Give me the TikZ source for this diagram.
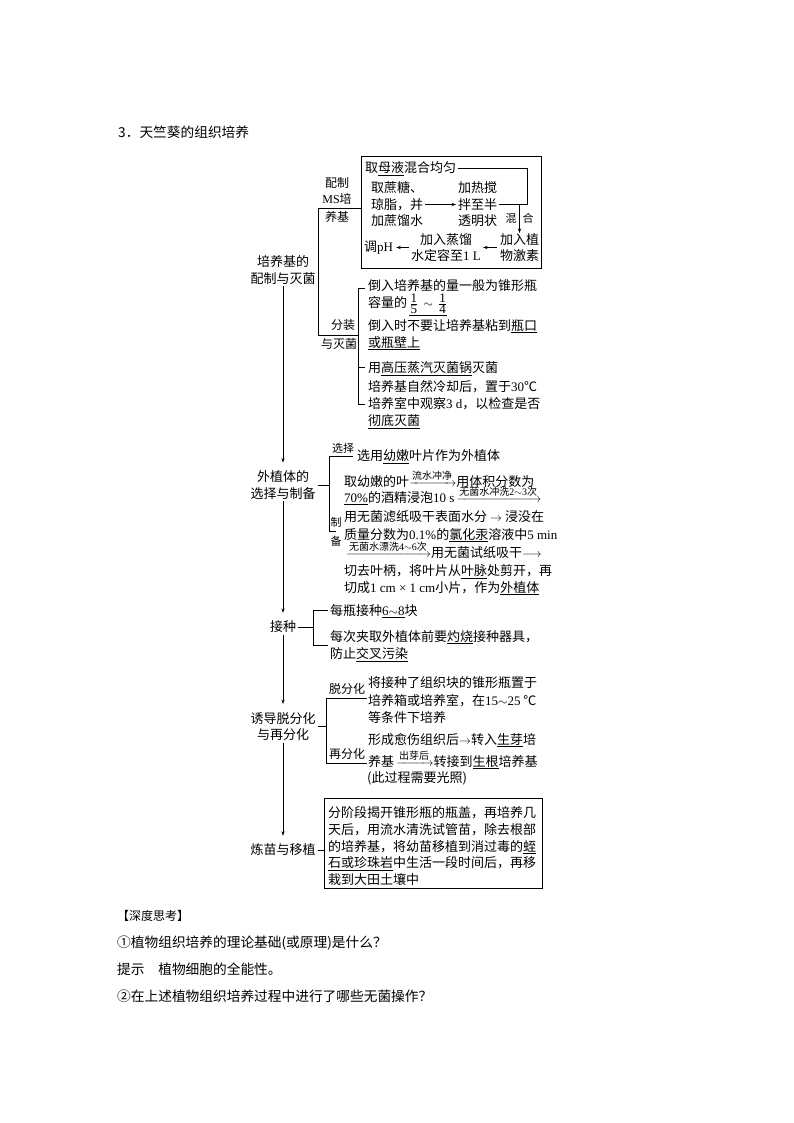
\documentclass[tikz,border=0pt]{standalone}
\usepackage{amsmath}
\usepackage{fontspec}
\setmainfont{Noto Sans CJK SC}
\newfontfamily\lat{Liberation Serif}
\usetikzlibrary{arrows.meta}
\newcommand{\uln}[1]{\underline{#1}}
\newcommand{\la}[1]{{\lat #1}}
\newcommand{\xarr}[1]{$\xrightarrow{\hbox{\fontsize{10}{12}\selectfont #1}}$}
\newcommand{\tld}{$\sim$}
\newcommand{\frc}[2]{\frac{\hbox{\fontsize{13}{13}\lat #1}}{\hbox{\fontsize{13}{13}\lat #2}}}
\begin{document}
\begin{tikzpicture}[x=1pt,y=-1pt,
  ln/.style={line width=0.6pt},
  arr/.style={ln,-{Stealth[length=4.5pt,width=3.2pt]}},
  tx/.style={anchor=base west,inner sep=0pt,font=\fontsize{13}{16}\selectfont},
  mtx/.style={inner sep=0pt,align=left,font=\fontsize{13}{16.5}\selectfont},
  sec/.style={inner sep=2pt,align=center,font=\fontsize{13}{16.5}\selectfont},
  lab/.style={inner sep=0pt,font=\fontsize{12}{14}\selectfont},
  sml/.style={inner sep=0pt,font=\fontsize{11}{13}\selectfont},
  bot/.style={anchor=base west,inner sep=0pt,font=\fontsize{13.7}{16}\selectfont},
]
\fill[white] (0,0) rectangle (794,1123);
\useasboundingbox (0,0) rectangle (794,1123);

% title
\node[bot] (title) at (118,138) {3．天竺葵的组织培养};

% section labels
\node[sec] (L1) at (283,270) {培养基的\\配制与灭菌};
\node[sec] (L2) at (283,485) {外植体的\\选择与制备};
\node[sec] (L3) at (283,627) {接种};
\node[sec] (L4) at (283,726.5) {诱导脱分化\\与再分化};
\node[sec] (L5) at (283,850) {炼苗与移植};
\draw[arr,shorten >=6pt] (L1.south) -- (L2.north);
\draw[arr,shorten >=6pt] (L2.south) -- (L3.north);
\draw[arr,shorten >=6pt] (L3.south) -- (L4.north);
\draw[arr,shorten >=6pt] (L4.south) -- (L5.north);

% ---------- section 1: MS medium box
\node[draw,ln,minimum width=180pt,minimum height=112pt,inner sep=0pt] (boxA) at (451,212) {};
\node[tx] (tA) at (365,173) {取\uln{母液}混合均匀};
\node[mtx,anchor=west] (tB) at (371,204.5) {取蔗糖、\\琼脂，并\\加蔗馏水};
\node[mtx,anchor=west] (tC) at (458,204.5) {加热搅\\拌至半\\透明状};
\node[mtx,align=center] (tD) at (519.5,247.5) {加入植\\物激素};
\node[mtx,align=center] (tE) at (446,247.5) {加入蒸馏\\水定容至\la{1 L}};
\node[mtx,anchor=west] (tF) at (364,247.5) {调\la{pH}};
\coordinate (c1) at (527,168);
\coordinate (c2) at (527,204.5);
\draw[ln] ([xshift=2pt]tA.east |- c1) -- (c1) -- (c2) -- ([xshift=2pt]tC.east |- c2);
\draw[arr] (tD.north |- c2) -- (tD.north);
\node[sml] (mix1) at (511,218) {混};
\node[sml] (mix2) at (528,218) {合};
\draw[arr] ([xshift=2pt]tB.east) -- ([xshift=-2pt]tC.west);
\draw[arr] ([xshift=-3pt]tD.west) -- ([xshift=2pt]tE.east);
\draw[arr] ([xshift=-2pt]tE.west) -- ([xshift=3pt]tF.east);

\node[lab] (ms1) at (337,183) {配制};
\node[lab] (ms2) at (337,199) {\la{MS}培};
\node[lab] (ms3) at (337,216.5) {养基};

\coordinate (j1) at (318,208);
\coordinate (j2) at (318,335);
\coordinate (f1) at (358,288);
\coordinate (f2) at (358,404);
\coordinate (f3) at (358,367);
\draw[ln] (boxA.west |- j1) -- (j1) -- (j2) -- (j2 -| f1);
\draw[ln] ([xshift=7pt]f1) -- (f1) -- (f2) -- ([xshift=7pt]f2);
\draw[ln] (f3) -- ([xshift=7pt]f3);
\node[lab] (fz1) at (343,325) {分装};
\node[lab] (fz2) at (339,344) {与灭菌};

\node[tx] (s1) at (368,290) {倒入培养基的量一般为锥形瓶};
\node[tx] (s2) at (368,307) {容量的\,$\underline{\frc{1}{5}\,\sim\,\frc{1}{4}}$};
\node[tx] (s3) at (368,330) {倒入时不要让培养基粘到\uln{瓶口}};
\node[tx] (s4) at (368,347) {\uln{或瓶壁上}};
\node[tx] (s5) at (368,372) {用\uln{高压蒸汽灭菌锅}灭菌};
\node[tx] (s6) at (368,391) {培养基自然冷却后，置于\la{30}℃};
\node[tx] (s7) at (368,408) {培养室中观察\la{3 d}，以检查是否};
\node[tx] (s8) at (368,425) {\uln{彻底灭菌}};

% ---------- section 2
\coordinate (w1) at (329,456);
\coordinate (w2) at (329,531);
\draw[ln] (L2.east) -- (L2.east -| w1);
\draw[ln] ([xshift=24pt]w1) -- (w1) -- (w2) -- ([xshift=7pt]w2);
\node[sml] (xz) at (343,448) {选择};
\node[sml] (zb1) at (336,522) {制};
\node[sml] (zb2) at (336,541) {备};
\node[tx] (p1) at (357,460) {选用\uln{幼嫩}叶片作为外植体};
\node[tx] (p2) at (344,486) {取幼嫩的叶\xarr{流水冲净}用体积分数为};
\node[tx] (p3) at (344,502) {\uln{\la{70\%}}的酒精浸泡\la{10 s}\,\xarr{无菌水冲洗\la{2}\tld\la{3}次}};
\node[tx] (p4) at (344,521) {用无菌滤纸吸干表面水分 $\rightarrow$ 浸没在};
\node[tx] (p5) at (344,539) {质量分数为\la{0.1\%}的\uln{氯化汞}溶液中\la{5 min}};
\node[tx] (p6) at (346,557) {\xarr{无菌水漂洗\la{4}\tld\la{6}次}用无菌试纸吸干$\longrightarrow$};
\node[tx] (p7) at (344,575) {切去叶柄，将叶片从\uln{叶脉}处剪开，再};
\node[tx] (p8) at (344,592) {切成\la{1 cm × 1 cm}小片，作为\uln{外植体}};

% ---------- section 3
\coordinate (k1) at (313,610);
\coordinate (k2) at (313,645);
\draw[ln] (L3.east) -- (L3.east -| k1);
\draw[ln] ([xshift=15pt]k1) -- (k1) -- (k2) -- ([xshift=15pt]k2);
\node[tx] (q1) at (330,615) {每瓶接种\uln{\la{6}\tld\la{8}}块};
\node[tx] (q2) at (330,641) {每次夹取外植体前要\uln{灼烧}接种器具，};
\node[tx] (q3) at (330,658) {防止\uln{交叉污染}};

% ---------- section 4
\coordinate (d1) at (326,698);
\coordinate (d2) at (326,763);
\draw[ln] (L4.east) -- (L4.east -| d1);
\draw[ln] ([xshift=41pt]d1) -- (d1) -- (d2) -- ([xshift=41pt]d2);
\node[lab] (tf) at (347,689) {脱分化};
\node[lab] (zf) at (347,754) {再分化};
\node[tx] (r1) at (368,687) {将接种了组织块的锥形瓶置于};
\node[tx] (r2) at (368,705) {培养箱或培养室，在\la{15}\tld\la{25} ℃};
\node[tx] (r3) at (368,722) {等条件下培养};
\node[tx] (r4) at (368,744) {形成愈伤组织后$\rightarrow$转入\uln{生芽}培};
\node[tx] (r5) at (368,766) {养基\,\xarr{出芽后}转接到\uln{生根}培养基};
\node[tx] (r6) at (367,782) {(此过程需要光照)};

% ---------- section 5
\node[draw,ln,minimum width=218pt,minimum height=90pt,inner sep=0pt] (boxB) at (433,843) {};
\draw[ln] (L5.east) -- (L5.east -| boxB.west);
\node[tx] (u1) at (328,817) {分阶段揭开锥形瓶的瓶盖，再培养几};
\node[tx] (u2) at (328,834) {天后，用流水清洗试管苗，除去根部};
\node[tx] (u3) at (328,851) {的培养基，将幼苗移植到消过毒的\uln{蛭}};
\node[tx] (u4) at (328,867) {\uln{石或珍珠岩}中生活一段时间后，再移};
\node[tx] (u5) at (328,884) {栽到大田土壤中};

% ---------- bottom text
\node[bot,font=\fontsize{12}{14}\selectfont] (b0) at (117,920) {【深度思考】};
\node[bot] (b1) at (117,947) {①植物组织培养的理论基础(或原理)是什么？};
\node[bot] (b2) at (117,974) {提示　植物细胞的全能性。};
\node[bot] (b3) at (117,1001) {②在上述植物组织培养过程中进行了哪些无菌操作？};
\end{tikzpicture}
\end{document}
